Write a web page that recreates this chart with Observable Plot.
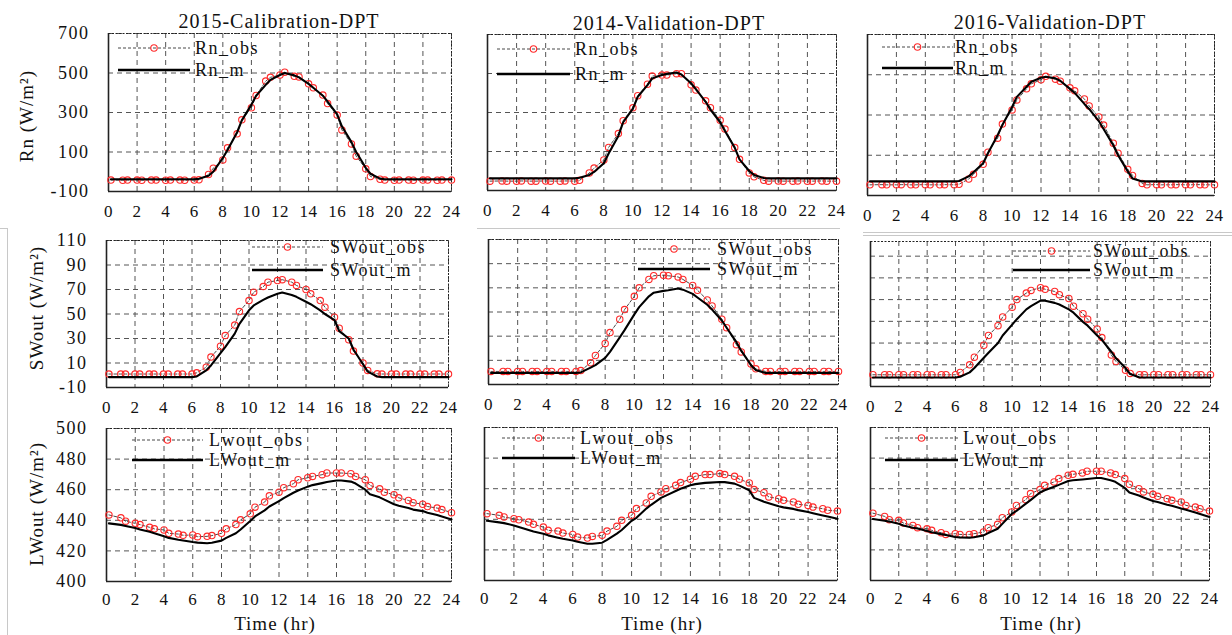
<!DOCTYPE html>
<html>
<head>
<meta charset="utf-8">
<script src="https://cdn.jsdelivr.net/npm/d3@7"></script>
<script src="https://cdn.jsdelivr.net/npm/@observablehq/plot@0.6"></script>
<style>
  html, body { margin: 0; padding: 0; background: #fff; }
  #wrap { position: relative; width: 1232px; height: 635px; overflow: hidden; background: #fff;
          font-family: "Liberation Serif", "Times New Roman", serif; }
  .panel { position: absolute; }
  .deco { position: absolute; background: #c8c8c8; }
</style>
</head>
<body>
<div id="wrap"></div>
<script>
// ---------------- data ----------------
const time = [0.17, 1, 1.33, 2, 2.33, 3, 3.33, 4, 4.33, 5, 5.33, 6, 6.33, 7, 7.33, 8, 8.33, 9, 9.33, 10, 10.33,
  11, 11.33, 12, 12.33, 13, 13.33, 14, 14.33, 15, 15.33, 16, 16.33, 17, 17.33, 18, 18.33, 19, 19.33, 20, 20.33,
  21, 21.33, 22, 22.33, 23, 23.33, 24];

const xTicks = [0, 2, 4, 6, 8, 10, 12, 14, 16, 18, 20, 22, 24];
const rnTicks = [-100, 100, 300, 500, 700];
const swTicks = [-10, 10, 30, 50, 70, 90, 110];
const lwTicks = [400, 420, 440, 460, 480, 500];

const titles = ["2015-Calibration-DPT", "2014-Validation-DPT", "2016-Validation-DPT"];
const yLabels = ["Rn (W/m²)", "SWout (W/m²)", "LWout (W/m²)"];
const obsNames = ["Rn_obs", "SWout_obs", "Lwout_obs"];
const modNames = ["Rn_m", "SWout_m", "LWout_m"];
const xLabel = "Time (hr)";

// Rn
const rnObs2015 = [-42,-43,-42,-42,-43,-42,-42,-43,-42,-42,-43,-42,-41,-14,18,60,121,192,263,324,386,459,478,490,504,
  483,480,445,425,388,345,287,212,141,79,15,-24,-38,-42,-43,-42,-42,-43,-42,-42,-43,-42,-42];
const rnMod2015 = [-38,-38,-38,-38,-38,-38,-38,-38,-38,-38,-38,-38,-36,-20,0,70,110,200,260,340,385,440,465,490,500,
  488,478,445,425,385,355,290,230,150,100,20,-10,-35,-38,-38,-38,-38,-38,-38,-38,-38,-38,-38];
const rnObs2014 = [-52,-51,-52,-52,-51,-52,-52,-51,-52,-52,-51,-52,-48,-10,15,57,121,192,258,324,386,445,487,492,492,
  499,499,442,415,360,325,260,215,120,60,-10,-30,-48,-52,-51,-52,-52,-51,-52,-52,-51,-52,-52];
const rnMod2014 = [-38,-38,-38,-38,-38,-38,-38,-38,-38,-38,-38,-38,-35,-20,-5,40,90,180,250,320,380,440,475,492,498,
  505,495,450,420,355,315,250,205,120,60,0,-20,-36,-38,-38,-38,-38,-38,-38,-38,-38,-38,-38];
const rnObs2016 = [-47,-46,-47,-47,-46,-47,-47,-46,-47,-47,-46,-47,-44,-18,5,55,115,185,255,325,375,430,455,475,492,
  478,468,435,420,380,345,290,250,160,110,30,0,-40,-47,-46,-47,-47,-46,-47,-47,-46,-47,-47];
const rnMod2016 = [-30,-30,-30,-30,-30,-30,-30,-30,-30,-30,-30,-30,-28,-5,15,60,110,200,250,340,390,440,465,485,490,
  482,470,430,410,355,330,270,230,150,100,20,-15,-30,-30,-30,-30,-30,-30,-30,-30,-30,-30,-30];

// SWout
const swObs2015 = [1,1,1,1,1,1,1,1,1,1,1,1,2,6.6,14.8,23.7,32.4,41,52,61,67.8,72.4,76,77.3,78,
  76,73.3,70,66.5,61,55.6,47.4,38.4,29,19.7,10,3.9,1.2,1,1,1,1,1,1,1,1,1,1];
const swMod2015 = [-1.5,-1.5,-1.5,-1.5,-1.5,-1.5,-1.5,-1.5,-1.5,-1.5,-1.5,-1.5,-1,4,8,18,23,34,42,53,57,61.5,63.5,66.5,67.5,
  65.5,64,60,58,53,50,45,36,30,21,9,3,-1,-1.5,-1.5,-1.5,-1.5,-1.5,-1.5,-1.5,-1.5,-1.5,-1.5];
const swObs2014 = [0.8,0.8,0.8,0.8,0.8,0.8,0.8,0.8,0.8,0.8,0.8,0.8,1.5,8,14,24,33,44,52,63,70,77,80,80.5,80,
  79,77,72,68,60,55,44,37,23,17,7,3,0.8,0.8,0.8,0.8,0.8,0.8,0.8,0.8,0.8,0.8,0.8];
const swMod2014 = [-0.5,-0.5,-0.5,-0.5,-0.5,-0.5,-0.5,-0.5,-0.5,-0.5,-0.5,-0.5,0,4,6,12,17,29,35,48,54,63,66,67.5,68,
  69.5,68.5,65,62,56,52,43,37,25,18,6,2,-0.5,-0.5,-0.5,-0.5,-0.5,-0.5,-0.5,-0.5,-0.5,-0.5,-0.5];
const swObs2016 = [0.8,0.8,0.8,0.8,0.8,0.8,0.8,0.8,0.8,0.8,0.8,0.8,3,10,17,28,37,46,54,63,70,76,78.5,81,79.5,
  77.5,74.5,71,64,57,52,43,35,19,13,5,2,0.8,0.8,0.8,0.8,0.8,0.8,0.8,0.8,0.8,0.8,0.8];
const swMod2016 = [-1.7,-1.7,-1.7,-1.7,-1.7,-1.7,-1.7,-1.7,-1.7,-1.7,-1.7,-1.7,-1,3,7,16.5,21,30,37,47,52,61,64,69,69,
  67,65.5,61,58,49.5,46,37,33,22,16,7,1.5,-1.7,-1.7,-1.7,-1.7,-1.7,-1.7,-1.7,-1.7,-1.7,-1.7,-1.7];

// LWout
const lwObs2015 = [443.5,441.6,439.4,438,437.2,435.4,434.4,433.7,431.5,431,430.2,430.4,429.3,429.5,430,431.5,434.4,437.2,440.3,444.2,448.6,
  451.9,456,458.4,461.3,463.9,466.5,467.8,468.7,469.8,470.9,470.9,470.9,470.5,468.7,466.5,462.8,460.6,458.4,456.7,454.7,
  453,451.5,450.5,449,448,447,445];
const lwMod2015 = [438,437,436.3,435,434,432.5,431.5,429.5,428.5,427.3,426.8,425.8,425.4,425,425.3,426.7,428.5,431.5,434,439.5,442.5,
  446.5,449,452.5,454.5,458,459.5,462,463,464.3,465,466,466,465.3,464,460,457,455,453.5,450.5,449.5,
  448,447,446,445,443.5,442.5,440.5];
const lwObs2014 = [443.7,442.6,441.5,440.4,439.7,438.2,436.7,434.9,432.8,432.3,431,430.1,428.4,427.7,428.8,429.5,432.3,435.4,439.3,442.6,447,
  450.7,455,457.9,460,462.2,464,466.2,468.1,469.2,469.2,469.9,469.2,468.1,466.2,463.8,459.4,457.4,454.6,453.5,452.4,
  451.3,449.8,449.1,448,446.9,445.9,445.4];
const lwMod2014 = [439,438,437.5,436,435,433,432,430.6,429.5,428,427.3,426.2,425.3,424,424,424.7,426.5,430.6,433,439,441,
  447,449.5,454,455.5,458.5,460,462.2,463,463.8,464,464.4,464.3,463.3,462,459,454,451.5,450.5,448.5,447.8,
  446.8,446,444.8,444,442.5,441.8,440.4];
const lwObs2016 = [444,441.9,439.7,439.3,437.6,436,434.5,433.8,432.8,431.2,430.1,430.6,430.1,430.1,430.6,431.7,434.5,436.7,441,444.8,449.1,
  452.8,456.8,459.4,462.2,464.4,466.6,468.8,469.4,470.3,471.4,471.4,471.4,470.3,469.2,466.6,462.9,460,457.9,456.3,455,
  453.5,452.4,451.3,449.1,448,446.9,445.4];
const lwMod2016 = [440.2,439,438.5,437.1,436,434.5,434,432.3,431.5,430.3,429.8,428.4,428.2,428,428.3,429.5,431,433.8,437,443.5,445.5,
  450.2,452.5,457.5,459,461.3,462.5,465,465.5,466,466.3,467,467,465.5,464.5,460.5,457.5,455.5,454.3,452,451.3,
  449.5,448.8,447,446.3,444.5,443.5,441.5];

// ---------------- layout ----------------
const FONT = '"Liberation Serif", "Times New Roman", serif';
const panels = [
  {row:0,col:0,obs:rnObs2015,mod:rnMod2015,frame:[108,451,33,191],yDomain:[-100,700],yTicks:rnTicks,leg:[10,82,87,15,37]},
  {row:0,col:1,obs:rnObs2014,mod:rnMod2014,frame:[487,836,34,190],yDomain:[-100,700],yTicks:rnTicks,leg:[10,83,88,15,40]},
  {row:0,col:2,obs:rnObs2016,mod:rnMod2016,frame:[867,1214,34,195],yDomain:[-100,700],yTicks:rnTicks,leg:[15,86,88,13,34]},
  {row:1,col:0,obs:swObs2015,mod:swMod2015,frame:[106,448,240,387],yDomain:[-10,110],yTicks:swTicks,leg:[146,217,224,7,30]},
  {row:1,col:1,obs:swObs2014,mod:swMod2014,frame:[488,838,239,384],yDomain:[-10,110],yTicks:swTicks,leg:[150,222,229,10,30]},
  {row:1,col:2,obs:swObs2016,mod:swMod2016,frame:[870,1210,241,386],yDomain:[-10,123.5],yTicks:swTicks,leg:[143,220,223,10,29]},
  {row:2,col:0,obs:lwObs2015,mod:lwMod2015,frame:[106,451,428,581],yDomain:[400,500],yTicks:lwTicks,leg:[26,97,103,12,32]},
  {row:2,col:1,obs:lwObs2014,mod:lwMod2014,frame:[484,837,427,580],yDomain:[400,500],yTicks:lwTicks,leg:[18,91,96,11,31]},
  {row:2,col:2,obs:lwObs2016,mod:lwMod2016,frame:[870,1209,427,580],yDomain:[400,500],yTicks:lwTicks,leg:[15,88,93,11,33]}
];

const wrap = document.getElementById("wrap");

// faint compositing lines of the original figure
[[7,228,1,407],[0,228,8,1],[477,228,363,1],[863,232,369,1],[863,235,369,1]].forEach(([l,t,w,h]) => {
  const d = document.createElement("div");
  d.className = "deco";
  Object.assign(d.style, {left:l+"px", top:t+"px", width:w+"px", height:h+"px"});
  wrap.appendChild(d);
});

panels.forEach(p => {
  const [x0, x1, y0, y1] = p.frame;
  const mL = p.col === 0 ? x0 : 14, mR = 14, mT = 8, mB = 36;
  const width = mL + (x1 - x0) + mR, height = mT + (y1 - y0) + mB;
  const data = time.map((t, i) => ({t, obs: p.obs[i], mod: p.mod[i]}));
  const marks = [
    Plot.gridX(xTicks, {stroke: "#555", strokeOpacity: 1, strokeWidth: 1, strokeDasharray: "5,4"}),
    Plot.gridY(p.yTicks, {stroke: "#555", strokeOpacity: 1, strokeWidth: 1, strokeDasharray: "5,4"}),
    Plot.frame({stroke: "#222", strokeWidth: 1, strokeDasharray: "2,1.5"}),
    Plot.ruleX([0], {stroke: "#222", strokeWidth: 1.6}),
    Plot.ruleY([p.yDomain[0]], {stroke: "#222", strokeWidth: 1.6}),
    Plot.axisX(xTicks, {tickSize: 0, tickPadding: p.row === 2 ? 11 : 13, tickFormat: d => String(d), fontSize: 17, fill: "#111"}),
    Plot.line(data, {x: "t", y: "obs", stroke: "#333", strokeWidth: 0.9, strokeDasharray: "3,2"}),
    Plot.dot(data, {x: "t", y: "obs", r: 3.2, stroke: "#ff2a2a", fill: "none", strokeWidth: 1.1}),
    Plot.line(data, {x: "t", y: "mod", stroke: "#000", strokeWidth: 2.1})
  ];
  if (p.col === 0) {
    marks.push(Plot.axisY(p.yTicks, {tickSize: 0, tickPadding: 19, tickFormat: d => String(d), fontSize: 18, fill: "#111"}));
  }
  const chart = Plot.plot({
    width, height, marginLeft: mL, marginRight: mR, marginTop: mT, marginBottom: mB,
    style: {fontFamily: FONT, fontSize: "17px", color: "#111", background: "transparent", overflow: "visible"},
    x: {domain: [0, 24], label: null},
    y: {domain: p.yDomain, label: null, axis: p.col === 0 ? undefined : null},
    marks
  });
  const svg = d3.select(chart);
  svg.selectAll('g[aria-label="y-axis tick label"] text').style("letter-spacing", "1.5px");
  svg.selectAll('g[aria-label="x-axis tick label"] text').style("letter-spacing", "0.5px");

  // legend
  const [ls, le, tx, yo, ym] = p.leg;
  const g = svg.append("g").attr("transform", `translate(${mL},${mT})`).attr("text-anchor", "start");
  g.append("line").attr("x1", ls).attr("x2", le).attr("y1", yo).attr("y2", yo)
    .attr("stroke", "#333").attr("stroke-width", 0.9).attr("stroke-dasharray", "3,2");
  g.append("circle").attr("cx", (ls + le) / 2).attr("cy", yo).attr("r", 3.2)
    .attr("fill", "none").attr("stroke", "#ff2a2a").attr("stroke-width", 1.1);
  g.append("line").attr("x1", ls).attr("x2", le).attr("y1", ym).attr("y2", ym)
    .attr("stroke", "#000").attr("stroke-width", 2.4);
  g.append("text").attr("x", tx).attr("y", yo).attr("dy", "0.36em").attr("text-anchor", "start").text(obsNames[p.row])
    .attr("font-size", 18).attr("fill", "#111").style("letter-spacing", "1.5px");
  g.append("text").attr("x", tx).attr("y", ym).attr("dy", "0.36em").attr("text-anchor", "start").text(modNames[p.row])
    .attr("font-size", 18).attr("fill", "#111").style("letter-spacing", "1.5px");

  const div = document.createElement("div");
  div.className = "panel";
  div.style.left = (x0 - mL) + "px";
  div.style.top = (y0 - mT) + "px";
  div.appendChild(chart);
  wrap.appendChild(div);
});

// titles, axis titles
const ov = d3.create("svg").attr("width", 1232).attr("height", 635)
  .style("position", "absolute").style("left", "0px").style("top", "0px")
  .style("font-family", FONT).style("pointer-events", "none");
[[279, 28], [669, 30], [1050, 29]].forEach(([x, y], i) => {
  ov.append("text").attr("x", x).attr("y", y).attr("text-anchor", "middle").attr("font-size", 20)
    .attr("fill", "#111").style("letter-spacing", "1px").text(titles[i]);
});
[[26, 116], [36, 308], [36, 504]].forEach(([x, y], i) => {
  ov.append("text").attr("transform", `translate(${x},${y}) rotate(-90)`).attr("text-anchor", "middle")
    .attr("dy", "0.35em").attr("font-size", 19).attr("fill", "#111").style("letter-spacing", "1px").text(yLabels[i]);
});
[275, 662, 1041].forEach(x => {
  ov.append("text").attr("x", x).attr("y", 623).attr("dy", "0.35em").attr("text-anchor", "middle")
    .attr("font-size", 19).attr("fill", "#111").style("letter-spacing", "1px").text(xLabel);
});
wrap.appendChild(ov.node());
</script>
</body>
</html>
